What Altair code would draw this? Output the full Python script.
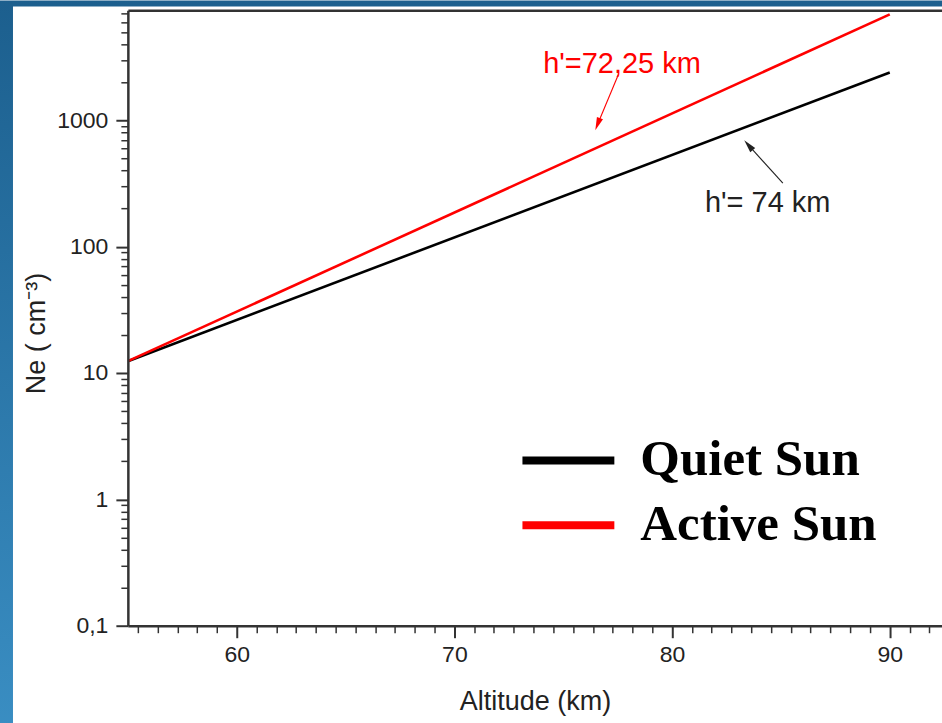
import altair as alt
import pandas as pd

# ---- data ----
altitude_km = [55, 90]
quiet_ne = [12.4, 2390]
active_ne = [12.4, 6890]
series_names = ["Quiet Sun", "Active Sun"]
series_colors = ["#000000", "#ff0000"]

# annotations (data coordinates)
ann_text = ["h'=72,25 km", "h'= 74 km"]
ann_x = [74.08, 81.51]
ann_y = [2773, 221]
ann_color = ["#ff0000", "#222222"]

arrow_x0 = [77.52, 85.09]
arrow_y0 = [2270, 318]
arrow_x1 = [76.58, 83.51]
arrow_y1 = [931, 635]
arrow_angle = [201, 319]

# axis ticks
x_major = [60, 70, 80, 90]
x_minor = [round(60 + k * 10 / 11, 4) for k in range(-5, 36) if k % 11 != 0]
y_major = [0.1, 1, 10, 100, 1000]
y_minor = [d * m for d in y_major for m in range(2, 10) if d * m <= 7400]

X_DOMAIN = [55, 92.4]
Y_DOMAIN = [0.1, 7407]

rows = []
for name, vals in zip(series_names, [quiet_ne, active_ne]):
    for a, v in zip(altitude_km, vals):
        rows.append({"altitude": a, "ne": v, "series": name})
df = pd.DataFrame(rows)

ann_df = pd.DataFrame({"text": ann_text, "x": ann_x, "y": ann_y, "c": ann_color})
arr_df = pd.DataFrame({"x0": arrow_x0, "y0": arrow_y0, "x1": arrow_x1, "y1": arrow_y1,
                       "angle": arrow_angle, "c": ["#ff0000", "#222222"]})

xs = alt.Scale(domain=X_DOMAIN, nice=False, zero=False)
ys = alt.Scale(type="log", domain=Y_DOMAIN, nice=False)

AX = dict(zindex=1, grid=False, domainColor="#333333", tickColor="#333333",
          labelFont="Liberation Sans", titleFont="Liberation Sans",
          labelColor="#222222", titleColor="#222222")

W, H = 815, 616
PAD = {"left": 128, "top": 10, "right": 0, "bottom": 97}

one = alt.Data(values=[{}])

bg = alt.Chart(one).mark_rect(
    fill=alt.Gradient(gradient="linear",
                      stops=[alt.GradientStop(color="#1c5f8e", offset=0),
                             alt.GradientStop(color="#3b90c5", offset=1)],
                      x1=0, x2=0, y1=0, y2=1)
).encode(x=alt.value(-128), x2=alt.value(W + 40), y=alt.value(-10), y2=alt.value(H + 140))

white = alt.Chart(one).mark_rect(fill="white").encode(
    x=alt.value(-115), x2=alt.value(W + 40), y=alt.value(-4), y2=alt.value(H + 140))

minor = alt.Chart(df).mark_point(opacity=0).encode(
    x=alt.X("altitude:Q", scale=xs,
            axis=alt.Axis(values=x_minor, labels=False, domain=False, tickSize=7,
                          tickWidth=1.5, title=None, orient="bottom", **AX)),
    y=alt.Y("ne:Q", scale=ys,
            axis=alt.Axis(values=y_minor, labels=False, domain=False, tickSize=7,
                          tickWidth=1.5, title=None, orient="left", **AX)),
)

topframe = alt.Chart(df).mark_point(opacity=0).encode(
    x=alt.X("altitude:Q", scale=xs,
            axis=alt.Axis(orient="top", labels=False, ticks=False, title=None,
                          domainWidth=2.5, **AX)),
    y=alt.Y("ne:Q", scale=ys, axis=None),
)

lines = alt.Chart(df).mark_line(strokeWidth=2.6, clip=True).encode(
    x=alt.X("altitude:Q", scale=xs,
            axis=alt.Axis(values=x_major, format="d", tickSize=12, tickWidth=2,
                          domainWidth=2.5, labelFontSize=23, labelPadding=6,
                          title="Altitude (km)", titleFontSize=27, titleFontWeight="normal",
                          titlePadding=22, orient="bottom", **AX)),
    y=alt.Y("ne:Q", scale=ys,
            axis=alt.Axis(values=y_major, tickSize=12, tickWidth=2, domainWidth=2.5,
                          labelExpr="datum.value == 0.1 ? '0,1' : format(datum.value, 'd')",
                          labelFontSize=23, labelPadding=8,
                          title="Ne ( cm\u207b\u00b3)", titleFontSize=27,
                          titleFontWeight="normal", titlePadding=6, titleY=323,
                          orient="left", **AX)),
    color=alt.Color("series:N",
                    scale=alt.Scale(domain=series_names, range=series_colors),
                    legend=alt.Legend(title=None, orient="none", legendX=391, legendY=418,
                                      symbolType="stroke", symbolSize=8464,
                                      symbolStrokeWidth=8, symbolOpacity=1,
                                      labelFont="Liberation Serif", labelFontWeight="bold",
                                      labelFontSize=51, labelColor="#000000",
                                      labelLimit=600, labelOffset=22, rowPadding=0,
                                      clipHeight=65, padding=0)),
    detail="series:N",
)

arrow_lines = alt.Chart(arr_df).mark_rule(strokeWidth=1.1).encode(
    x=alt.X("x0:Q", scale=xs, axis=None), y=alt.Y("y0:Q", scale=ys, axis=None),
    x2="x1:Q", y2="y1:Q",
    color=alt.Color("c:N", scale=None),
)

arrow_heads = alt.Chart(arr_df).mark_point(shape="M0,-1L0.5,1L-0.5,1Z", filled=True,
                                           size=169, opacity=1, strokeWidth=0).encode(
    x=alt.X("x1:Q", scale=xs, axis=None), y=alt.Y("y1:Q", scale=ys, axis=None),
    angle=alt.Angle("angle:Q", scale=None),
    color=alt.Color("c:N", scale=None),
)

labels = alt.Chart(ann_df).mark_text(align="left", baseline="middle", font="Liberation Sans",
                                     fontSize=29).encode(
    x=alt.X("x:Q", scale=xs, axis=None), y=alt.Y("y:Q", scale=ys, axis=None),
    text="text:N",
    color=alt.Color("c:N", scale=None),
)

chart = alt.layer(bg, white, minor, topframe, lines, arrow_lines, arrow_heads, labels).resolve_scale(
    color="independent"
).resolve_axis(x="independent", y="independent").properties(
    width=W, height=H, padding=PAD, autosize=alt.AutoSizeParams(type="none"),
    background="white",
).configure_view(stroke=None)

chart.save("out.html", embed_options={"renderer": "svg", "actions": False})
